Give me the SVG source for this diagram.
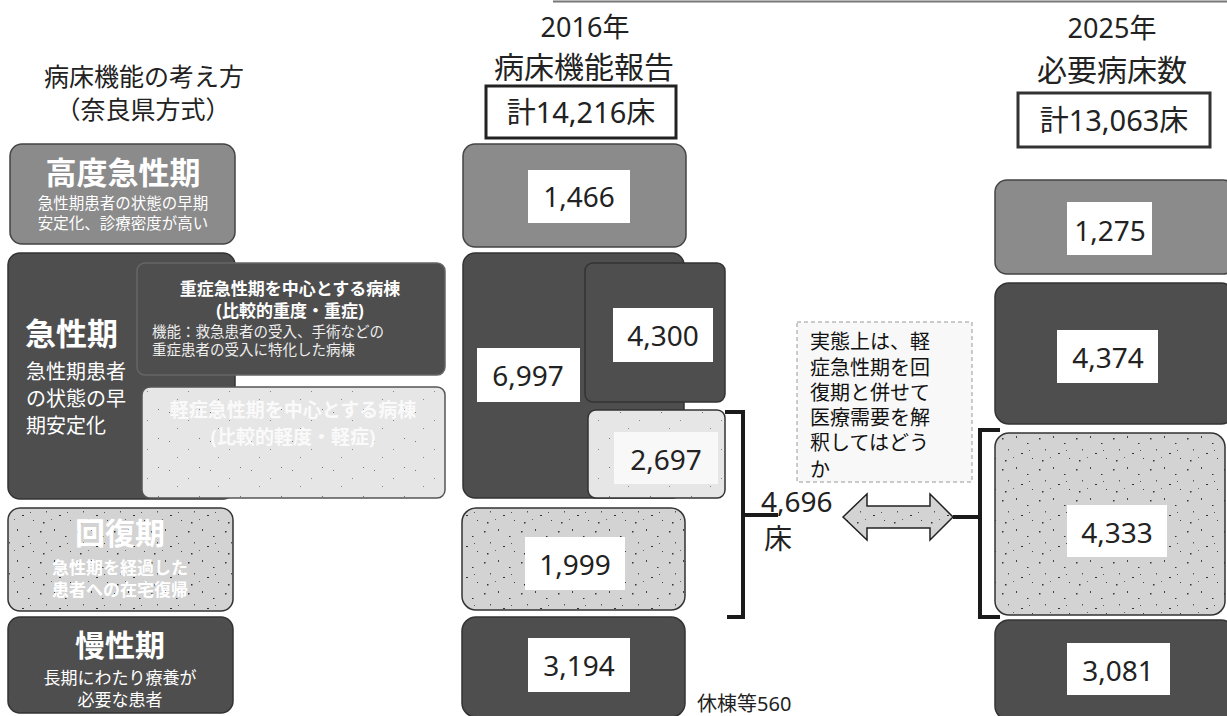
<svg xmlns="http://www.w3.org/2000/svg" width="1227" height="716" viewBox="0 0 1227 716">
<defs>
<pattern id="stip" width="37" height="31" patternUnits="userSpaceOnUse">
<rect width="37" height="31" fill="#d3d3d3"/>
<rect x="3" y="4" width="1.5" height="1.5" fill="#333"/>
<rect x="17" y="2" width="1" height="2" fill="#444"/>
<rect x="28" y="9" width="1.5" height="1" fill="#333"/>
<rect x="9" y="15" width="1" height="1.5" fill="#555"/>
<rect x="22" y="19" width="2" height="1" fill="#333"/>
<rect x="33" y="24" width="1" height="1" fill="#444"/>
<rect x="6" y="26" width="1.5" height="1.5" fill="#333"/>
<rect x="14" y="23" width="1" height="1" fill="#666"/>
<rect x="30" y="16" width="1" height="1" fill="#555"/>
</pattern>
<pattern id="stip2" width="41" height="29" patternUnits="userSpaceOnUse">
<rect width="41" height="29" fill="#e6e6e6"/>
<rect x="5" y="6" width="1" height="1" fill="#777"/>
<rect x="24" y="14" width="1" height="1" fill="#888"/>
<rect x="35" y="3" width="1" height="1" fill="#777"/>
<rect x="13" y="22" width="1" height="1" fill="#888"/>
</pattern>
</defs>
<style>
text{font-family:"Noto Sans","Noto Sans CJK JP",sans-serif;}
.mid{fill:#8b8b8b;stroke:#444;stroke-width:1.5}
.dark{fill:#4e4e4e;stroke:#333;stroke-width:1.5}
.lite{fill:url(#stip);stroke:#333;stroke-width:1.5}
.lab{fill:#fff}
.num{font-size:28px;fill:#222;text-anchor:middle}
.head{fill:#222;text-anchor:middle}
.wt{fill:#fff;text-anchor:middle}
.br{fill:none;stroke:#1a1a1a;stroke-width:4}
</style>
<line x1="553" y1="1.5" x2="1227" y2="1.5" stroke="#777" stroke-width="2"/>

<g id="left-title">
<text x="144" y="86" font-size="25" fill="#222" text-anchor="middle">病床機能の考え方</text>
<text x="143" y="119" font-size="25" fill="#222" text-anchor="middle">（奈良県方式）</text>
</g>

<g id="left-koudo">
<rect class="mid" x="10" y="144" width="225" height="100" rx="12"/>
<text class="wt" x="123" y="184" font-size="31" font-weight="bold">高度急性期</text>
<text class="wt" x="123" y="209" font-size="15.5">急性期患者の状態の早期</text>
<text class="wt" x="123" y="229" font-size="15.5">安定化、診療密度が高い</text>
</g>

<g id="left-kyusei">
<rect class="dark" x="8" y="253" width="227" height="246" rx="12"/>
<rect x="137" y="263" width="308" height="112" rx="8" fill="#4e4e4e" stroke="#666" stroke-width="1.5"/>
<text x="25" y="345" font-size="31" font-weight="bold" fill="#fff">急性期</text>
<text x="26" y="379" font-size="20" fill="#fff">急性期患者</text>
<text x="26" y="406" font-size="20" fill="#fff">の状態の早</text>
<text x="26" y="433" font-size="20" fill="#fff">期安定化</text>
<text class="wt" x="290" y="295" font-size="17" font-weight="bold">重症急性期を中心とする病棟</text>
<text class="wt" x="290" y="317" font-size="17" font-weight="bold">(比較的重度・重症)</text>
<text x="152" y="337" font-size="14.5" fill="#eee">機能：救急患者の受入、手術などの</text>
<text x="152" y="355" font-size="14.5" fill="#eee">重症患者の受入に特化した病棟</text>
<rect x="142" y="387" width="303" height="111" rx="8" fill="url(#stip2)" stroke="#555" stroke-width="1.5"/>
<text x="293" y="417" font-size="19" font-weight="bold" fill="#fafafa" text-anchor="middle">軽症急性期を中心とする病棟</text>
<text x="293" y="444" font-size="19" font-weight="bold" fill="#fafafa" text-anchor="middle">(比較的軽度・軽症)</text>
</g>

<g id="left-kaifuku">
<rect class="lite" x="8" y="508" width="225" height="103" rx="12"/>
<text class="wt" x="120" y="544" font-size="30" font-weight="bold">回復期</text>
<text class="wt" x="120" y="574" font-size="17" font-weight="bold">急性期を経過した</text>
<text class="wt" x="120" y="596" font-size="17" font-weight="bold">患者への在宅復帰</text>
</g>

<g id="left-mansei">
<rect class="dark" x="8" y="617" width="225" height="96" rx="12"/>
<text class="wt" x="120" y="656" font-size="30" font-weight="bold">慢性期</text>
<text class="wt" x="120" y="684" font-size="17">長期にわたり療養が</text>
<text class="wt" x="120" y="706" font-size="17">必要な患者</text>
</g>

<g id="mid-head">
<text class="head" x="585" y="37" font-size="27">2016年</text>
<text class="head" x="584" y="78" font-size="30">病床機能報告</text>
<rect x="486" y="86" width="190" height="52" fill="#fff" stroke="#222" stroke-width="3"/>
<text class="head" x="581" y="123" font-size="29">計14,216床</text>
</g>

<g id="mid-1466">
<rect class="mid" x="463" y="144" width="223" height="103" rx="12"/>
<rect class="lab" x="528" y="170" width="102" height="53"/>
<text class="num" x="579" y="207">1,466</text>
</g>

<g id="mid-6997">
<rect class="dark" x="463" y="253" width="221" height="245" rx="12"/>
<rect class="lab" x="477" y="348" width="103" height="54"/>
<text class="num" x="528" y="386">6,997</text>
</g>

<g id="mid-4300">
<rect x="585" y="263" width="140" height="139" rx="8" fill="#4e4e4e" stroke="#333" stroke-width="1.5"/>
<rect class="lab" x="613" y="308" width="100" height="54"/>
<text class="num" x="663" y="346">4,300</text>
</g>

<g id="mid-2697">
<rect x="588" y="410" width="137" height="88" rx="8" fill="url(#stip2)" stroke="#333" stroke-width="1.5"/>
<rect x="614" y="432" width="104" height="52" fill="#f8f8f8"/>
<text class="num" x="666" y="470">2,697</text>
</g>

<g id="mid-1999">
<rect class="lite" x="462" y="508" width="223" height="102" rx="14"/>
<rect class="lab" x="525" y="537" width="100" height="53"/>
<text class="num" x="575" y="575">1,999</text>
</g>

<g id="mid-3194">
<rect class="dark" x="462" y="617" width="223" height="100" rx="14"/>
<rect class="lab" x="528" y="638" width="102" height="54"/>
<text class="num" x="579" y="676">3,194</text>
<text x="697" y="711" font-size="20" fill="#222">休棟等560</text>
</g>

<g id="note">
<rect x="797" y="322" width="175" height="160" fill="#f8f8f8" stroke="#999" stroke-width="1" stroke-dasharray="4 3"/>
<text x="810" y="349" font-size="20" fill="#111">実態上は、軽</text>
<text x="810" y="375" font-size="20" fill="#111">症急性期を回</text>
<text x="810" y="400" font-size="20" fill="#111">復期と併せて</text>
<text x="810" y="425" font-size="20" fill="#111">医療需要を解</text>
<text x="810" y="450" font-size="20" fill="#111">釈してはどう</text>
<text x="810" y="477" font-size="20" fill="#111">か</text>
</g>

<g id="sum-4696">
<text x="761" y="512" font-size="28" fill="#222">4,696</text>
<text x="764" y="549" font-size="28" fill="#222">床</text>
</g>

<g id="right-head">
<text class="head" x="1112" y="38" font-size="27">2025年</text>
<text class="head" x="1112" y="81" font-size="30">必要病床数</text>
<rect x="1018" y="93" width="192" height="54" fill="#fff" stroke="#333" stroke-width="3"/>
<text class="head" x="1114" y="131" font-size="29">計13,063床</text>
</g>

<g id="right-1275">
<rect class="mid" x="995" y="180" width="240" height="94" rx="12"/>
<rect class="lab" x="1067" y="202" width="85" height="53"/>
<text class="num" x="1110" y="241">1,275</text>
</g>

<g id="right-4374">
<rect class="dark" x="995" y="283" width="240" height="141" rx="14"/>
<rect class="lab" x="1057" y="330" width="101" height="53"/>
<text class="num" x="1108" y="368">4,374</text>
</g>

<g id="right-4333">
<rect class="lite" x="995" y="433" width="230" height="182" rx="14"/>
<rect class="lab" x="1067" y="505" width="100" height="52"/>
<text class="num" x="1117" y="543">4,333</text>
</g>

<g id="right-3081">
<rect class="dark" x="995" y="620" width="240" height="100" rx="14"/>
<rect class="lab" x="1067" y="643" width="103" height="52"/>
<text class="num" x="1118" y="681">3,081</text>
</g>

<g id="connectors">
<path class="br" d="M725 412 H743 V617 H727 M743 515 H778"/>
<path class="br" d="M1000 430 H980 V617 H1000 M953 517 H980"/>
<path d="M843 517 L867 494 V506 H930 V494 L953 517 L930 540 V528 H867 V540 Z" fill="url(#stip)" stroke="#222" stroke-width="1.5"/>
</g>
</svg>
